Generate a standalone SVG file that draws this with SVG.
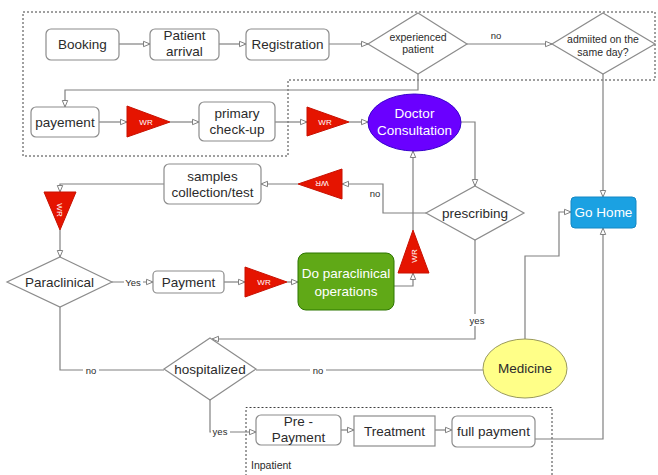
<svg xmlns="http://www.w3.org/2000/svg" width="658" height="475" viewBox="0 0 658 475">
<defs>
<marker id="arr" markerUnits="userSpaceOnUse" markerWidth="9" markerHeight="9" viewBox="0 0 9 9" refX="8" refY="4.5" orient="auto">
<path d="M1.5,1.8 L8,4.5 L1.5,7.2 Z" fill="#fff" stroke="#808080" stroke-width="1"/>
</marker>
<style>
text{font-family:"Liberation Sans",Arial,sans-serif;fill:#2b2b2b;text-anchor:middle}
.t{font-size:13.5px}
.s{font-size:10.5px}
.l{font-size:9.5px}
.w{fill:#fff}
.wr{font-size:8px;fill:#fff}
.box{fill:#fff;stroke:#8c8c8c;stroke-width:1.2}
.dia{fill:#fff;stroke:#8c8c8c;stroke-width:1.2}
.red{fill:#e51400;stroke:#c81000;stroke-width:1}
.c{fill:none;stroke:#808080;stroke-width:1.2}
.a{marker-end:url(#arr)}
.dash{fill:none;stroke:#404040;stroke-width:1;stroke-dasharray:2,2}
.bg{fill:#fff}
</style>
</defs>
<rect width="658" height="475" fill="#fff"/>
<g id="groups">
<path class="dash" d="M23,12 H655 V80 H288 V156 H23 Z"/>
<path class="dash" d="M246,476 V407.5 H552 V476"/>
</g>
<g id="connectors">
<path class="c a" d="M119,44 H150"/>
<path class="c a" d="M219,44 H246"/>
<path class="c a" d="M329,44 H368"/>
<path class="c a" d="M467,44 H552"/>
<path class="c a" d="M418,74 V90 H65 V107"/>
<path class="c a" d="M99,122 H127"/>
<path class="c a" d="M170,122 H199"/>
<path class="c a" d="M275,122 H307"/>
<path class="c a" d="M349,122 H368"/>
<path class="c a" d="M461,122 H475 V186"/>
<path class="c a" d="M426,213 H383 V184 H342"/>
<path class="c a" d="M298,184 H261"/>
<path class="c a" d="M164,184 H60 V192"/>
<path class="c a" d="M60,230 V257"/>
<path class="c a" d="M112,282 H153"/>
<path class="c a" d="M224,282 H245"/>
<path class="c a" d="M287,282 H298"/>
<path class="c a" d="M394,286 H413 V273"/>
<path class="c a" d="M413,230 V151"/>
<path class="c a" d="M475,240 V339 H212"/>
<path class="c" d="M60,307 V370 H164"/>
<path class="c" d="M256,370 H483"/>
<path class="c a" d="M525,339 V256 H559 V212 H571"/>
<path class="c a" d="M603,74 V197"/>
<path class="c a" d="M210,400 V432 H256"/>
<path class="c a" d="M341,430 H354"/>
<path class="c a" d="M435,430 H452"/>
<path class="c a" d="M535,439 H603 V228"/>
<text class="l" x="496" y="39">no</text>
<rect class="bg" x="367" y="187" width="15" height="12"/>
<text class="l" x="375" y="197">no</text>
<rect class="bg" x="124" y="276" width="19" height="12"/>
<text class="l" x="133" y="285.5">Yes</text>
<rect class="bg" x="468" y="314" width="18" height="12"/>
<text class="l" x="477" y="324">yes</text>
<rect class="bg" x="83" y="364" width="16" height="12"/>
<text class="l" x="91" y="373.5">no</text>
<rect class="bg" x="310" y="364" width="16" height="12"/>
<text class="l" x="318" y="373.5">no</text>
<rect class="bg" x="211" y="426" width="19" height="12"/>
<text class="l" x="220" y="435">yes</text>
</g>
<g id="booking"><rect class="box" x="46" y="29" width="73" height="31" rx="5"/><text class="t" x="82.5" y="49">Booking</text></g>
<g id="patient-arrival"><rect class="box" x="150" y="29" width="69" height="31" rx="5"/><text class="t" x="184.5" y="40">Patient</text><text class="t" x="184.5" y="56">arrival</text></g>
<g id="registration"><rect class="box" x="246" y="29" width="83" height="31" rx="5"/><text class="t" x="287.5" y="49">Registration</text></g>
<g id="experienced-patient"><polygon class="dia" points="418,13 467,44 418,74 368,44"/><text class="s" x="418" y="40.5">experienced</text><text class="s" x="418" y="53">patient</text></g>
<g id="admitted-same-day"><polygon class="dia" points="603,13 655,44 603,74 552,44"/><text class="s" x="603" y="42.5">admiited on the</text><text class="s" x="603" y="55.5">same day?</text></g>
<g id="payement"><rect class="box" x="31" y="107" width="68" height="30" rx="5"/><text class="t" x="65" y="126.5">payement</text></g>
<g id="wr1"><polygon class="red" points="127,106 170,122 127,137"/><text class="wr" x="146" y="125">WR</text></g>
<g id="primary-check-up"><rect class="box" x="199" y="102" width="76" height="39" rx="5"/><text class="t" x="237" y="117.5">primary</text><text class="t" x="237" y="133.5">check-up</text></g>
<g id="wr2"><polygon class="red" points="307,107 349,122 307,136"/><text class="wr" x="325" y="125">WR</text></g>
<g id="doctor-consultation"><ellipse cx="414.5" cy="122.5" rx="46.5" ry="28.5" fill="#6a00ff" stroke="#3700cc" stroke-width="1"/><text class="t w" x="414.5" y="118">Doctor</text><text class="t w" x="414.5" y="135">Consultation</text></g>
<g id="prescribing"><polygon class="dia" points="475,186 524,213 475,240 426,213"/><text class="t" x="475" y="217.5">prescribing</text></g>
<g id="wr3"><polygon class="red" points="342,169 298,184 342,199"/><text class="wr" transform="translate(322,184) rotate(180)" y="3">WR</text></g>
<g id="samples"><rect class="box" x="164" y="164" width="97" height="40" rx="5"/><text class="t" x="212.5" y="181">samples</text><text class="t" x="212.5" y="197">collection/test</text></g>
<g id="wr4"><polygon class="red" points="44,192 76,192 60,230"/><text class="wr" transform="translate(60,210) rotate(90)" y="3">WR</text></g>
<g id="paraclinical"><polygon class="dia" points="60,257 112,282 60,307 7,282"/><text class="t" x="59.5" y="286.5">Paraclinical</text></g>
<g id="payment"><rect class="box" x="153" y="271" width="71" height="22" rx="4"/><text class="t" x="188.5" y="286.5">Payment</text></g>
<g id="wr5"><polygon class="red" points="245,267 287,282 245,297"/><text class="wr" x="264" y="285">WR</text></g>
<g id="do-paraclinical"><rect x="298" y="253" width="96" height="57" rx="8" fill="#60a917" stroke="#2d7600" stroke-width="1"/><text class="t w" x="346" y="278">Do paraclinical</text><text class="t w" x="346" y="296">operations</text></g>
<g id="wr6"><polygon class="red" points="398,273 429,273 413,230"/><text class="wr" transform="translate(414,256) rotate(-90)" y="3">WR</text></g>
<g id="go-home"><rect x="571" y="197" width="65" height="31" rx="4" fill="#1ba1e2" stroke="#1588c4" stroke-width="1"/><text class="t w" x="603.5" y="217">Go Home</text></g>
<g id="hospitalized"><polygon class="dia" points="210,338 256,369 210,400 164,369"/><text class="t" x="210" y="374">hospitalized</text></g>
<g id="medicine"><ellipse cx="525" cy="368.5" rx="42" ry="29.5" fill="#ffff88" stroke="#9a9a5a" stroke-width="1"/><text class="t" x="525" y="373">Medicine</text></g>
<g id="pre-payment"><rect class="box" x="256" y="415" width="85" height="30" rx="5"/><text class="t" x="298.5" y="426">Pre -</text><text class="t" x="298.5" y="441.5">Payment</text></g>
<g id="treatment"><rect class="box" x="354" y="416" width="81" height="30"/><text class="t" x="394.5" y="435.5">Treatment</text></g>
<g id="full-payment"><rect class="box" x="452" y="416" width="83" height="31" rx="5"/><text class="t" x="493.5" y="436">full payment</text></g>
<g id="inpatient-label"><text class="s" x="251" y="469" style="text-anchor:start">Inpatient</text></g>
</svg>
